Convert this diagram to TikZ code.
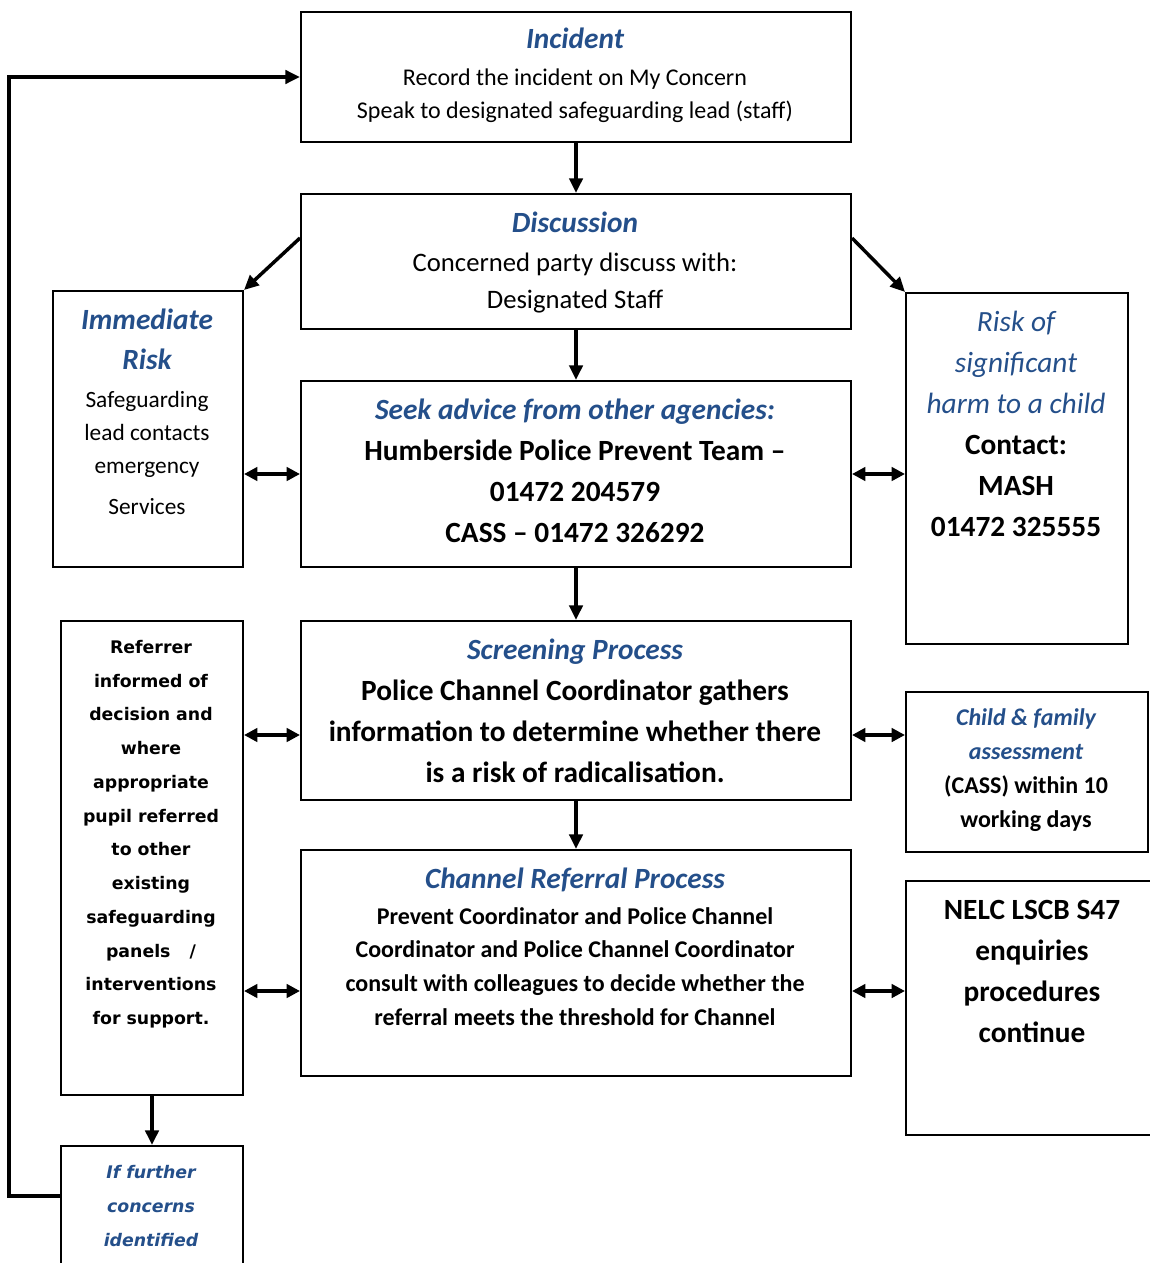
\documentclass[tikz,border=0pt]{standalone}
\usepackage{fontspec}
\setmainfont{Carlito}
\newfontfamily\verd{DejaVu Sans}
\usetikzlibrary{arrows.meta,calc}
\definecolor{ttl}{RGB}{36,79,138}
\newcommand\tbi{\color{ttl}\bfseries\itshape}
\newcommand\mkbox[5]{\node[bx, minimum width={(#4-#2)*0.75pt}, minimum height={(#5-#3)*0.75pt}] (#1) at (#2,#3) {};}
\newcommand\blk[5]{\node[tx, font={#4}] (#1) at (#2,#3) {\begin{tabular}[t]{@{}c@{}}#5\end{tabular}};}
\tikzset{
 bx/.style={draw, line width=1.5pt, inner sep=0pt, anchor=north west},
 arr/.style={line width=2.6pt, -{Triangle[length=11pt,width=10pt]}},
 darr/.style={line width=2.6pt, {Triangle[length=10pt,width=10pt]}-{Triangle[length=10pt,width=10pt]}},
 tx/.style={anchor=base, inner sep=0pt},
}
\begin{document}
\begin{tikzpicture}[x=0.75pt,y=-0.75pt]
\useasboundingbox (0,0) rectangle (1149,1263);
% boxes
\mkbox{inc}{300}{11}{850}{141}
\mkbox{dis}{300}{193}{850}{328}
\mkbox{imm}{52}{290}{242}{566}
\mkbox{seek}{300}{380}{850}{566}
\mkbox{risk}{905}{292}{1127}{643}
\mkbox{ref}{60}{620}{242}{1094}
\mkbox{scr}{300}{620}{850}{799}
\mkbox{chf}{905}{691}{1147}{851}
\mkbox{chn}{300}{849}{850}{1075}
\mkbox{nelc}{905}{880}{1165}{1134}
\mkbox{iff}{60}{1145}{242}{1280}
% texts
\blk{incT}{575}{49}{\fontsize{22}{30}\selectfont}{\tbi Incident}
\blk{incB}{575}{85}{\fontsize{18}{25.1}\selectfont}{Record the incident on My Concern\\Speak to designated safeguarding lead (staff)}
\blk{disT}{575}{232}{\fontsize{22}{30}\selectfont}{\tbi Discussion}
\blk{disB}{575}{271}{\fontsize{20}{28}\selectfont}{Concerned party discuss with:\\Designated Staff}
\blk{seekT}{575}{419}{\fontsize{22}{30}\selectfont}{\tbi Seek advice from other agencies:}
\blk{seekB}{575}{460}{\fontsize{22}{30.75}\selectfont\bfseries}{Humberside Police Prevent Team --\\01472 204579\\CASS -- 01472 326292}
\blk{scrT}{575}{659}{\fontsize{22}{30}\selectfont}{\tbi Screening Process}
\blk{scrB}{575}{700}{\fontsize{22}{31}\selectfont\bfseries}{Police Channel Coordinator gathers\\information to determine whether there\\is a risk of radicalisation.}
\blk{chnT}{575}{888}{\fontsize{22}{30}\selectfont}{\tbi Channel Referral Process}
\blk{chnB}{575}{924}{\fontsize{18}{25.3}\selectfont\bfseries}{Prevent Coordinator and Police Channel\\Coordinator and Police Channel Coordinator\\consult with colleagues to decide whether the\\referral meets the threshold for Channel}
\blk{immT}{147}{329}{\fontsize{22}{30.5}\selectfont}{\tbi Immediate\\\tbi Risk}
\blk{immB}{147}{407}{\fontsize{17.5}{25.1}\selectfont}{Safeguarding\\lead contacts\\emergency\\[5pt]Services}
\blk{riskB}{1016}{331}{\fontsize{22}{30.75}\selectfont}{\color{ttl}\itshape Risk of\\\color{ttl}\itshape significant\\\color{ttl}\itshape harm to a child\\\bfseries Contact:\\\bfseries MASH\\\bfseries 01472 325555}
\blk{refB}{151}{653.5}{\verd\bfseries\fontsize{13}{25.3}\selectfont}{Referrer\\informed of\\decision and\\where\\appropriate\\pupil referred\\to other\\existing\\safeguarding\\panels\hspace{1.1em}/\\interventions\\for support.}
\blk{iffB}{151}{1178}{\verd\fontsize{13}{25.5}\selectfont}{\tbi If further\\\tbi concerns\\\tbi identified}
\blk{chfB}{1026}{725}{\fontsize{18}{25.5}\selectfont}{\tbi Child \& family\\\tbi assessment\\\bfseries (CASS) within 10\\\bfseries working days}
\blk{nelcB}{1032}{919}{\fontsize{22}{30.75}\selectfont\bfseries}{NELC LSCB S47\\enquiries\\procedures\\continue}
% arrows
\draw[arr] (inc.south) -- (dis.north);
\draw[arr] (dis.south) -- (seek.north);
\draw[arr] (seek.south) -- (scr.north);
\draw[arr] (scr.south) -- (chn.north);
\draw[arr] (ref.south) -- (iff.north);
\draw[arr] ($(dis.north west)+(0,45)$) -- (imm.north east);
\draw[arr] ($(dis.north east)+(0,45)$) -- (risk.north west);
\draw[darr] (seek.west) -- (imm.east |- seek.west);
\draw[darr] (seek.east) -- (risk.west |- seek.east);
\coordinate (y1) at (0,735);
\coordinate (y2) at (0,991);
\draw[darr] (scr.west |- y1) -- (ref.east |- y1);
\draw[darr] (scr.east |- y1) -- (chf.west |- y1);
\draw[darr] (chn.west |- y2) -- (ref.east |- y2);
\draw[darr] (chn.east |- y2) -- (nelc.west |- y2);
\coordinate (lx) at (9,1196);
\draw[arr, line join=miter] (iff.west |- lx) -- (lx) |- (inc.west);
\end{tikzpicture}
\end{document}
